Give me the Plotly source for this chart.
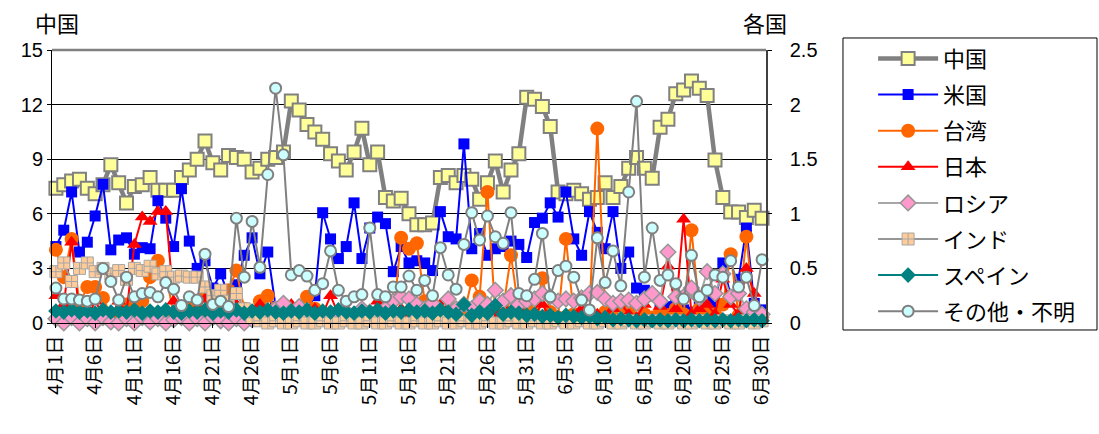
import pandas as pd
import plotly.graph_objects as go

# Daily categories, April 1 – June 30
dates = pd.date_range("2020-04-01", "2020-06-30", freq="D")
categories = [f"{d.month}月{d.day}日" for d in dates]
tick_labels = categories[::5]

# 中国 (left axis)
china = [7.4, 7.6, 7.8, 7.9, 7.4, 7.1, 7.6, 8.7, 7.7, 6.6,
         7.5, 7.6, 8.0, 7.3, 7.3, 7.3, 8.0, 8.4, 9.0, 10.0,
         8.8, 8.4, 9.2, 9.1, 9.0, 8.3, 8.5, 9.0, 9.1, 9.4,
         12.2, 11.7, 10.9, 10.5, 10.1, 9.3, 8.9, 8.4, 9.4, 10.7,
         8.7, 9.4, 6.9, 6.7, 6.85, 6.0, 5.4, 5.4, 5.5, 8.0,
         8.1, 7.7, 8.1, 7.9, 6.8, 7.7, 8.9, 7.2, 8.4, 9.3,
         12.4, 12.3, 11.9, 10.8, 7.2, 7.1, 7.3, 7.1, 6.8, 6.9,
         7.7, 6.9, 7.5, 8.5, 9.1, 8.5, 7.95, 10.75, 11.2, 12.6,
         12.8, 13.3, 12.9, 12.5, 8.95, 6.9, 6.1, 6.1, 5.8, 6.2,
         5.75]

# Other countries (right axis)
usa = [0.70, 0.85, 1.20, 0.65, 0.74, 0.98, 1.27, 0.67, 0.76, 0.78,
       0.63, 0.69, 0.68, 1.12, 0.96, 0.70, 1.23, 0.75, 0.50, 0.57,
       0.32, 0.45, 0.25, 0.35, 0.62, 0.78, 0.45, 0.65, 0.15, 0.12,
       0.10, 0.13, 0.12, 0.25, 1.01, 0.77, 0.59, 0.70, 1.10, 0.59,
       0.87, 0.97, 0.91, 0.47, 0.70, 0.55, 0.57, 0.55, 0.48, 1.02,
       0.79, 0.77, 1.64, 0.68, 0.82, 0.62, 0.68, 0.70, 0.75, 0.72,
       0.60, 0.92, 0.96, 1.10, 0.97, 1.20, 0.77, 0.62, 1.02, 0.83,
       0.68, 1.02, 0.50, 0.65, 0.32, 0.30, 0.25, 0.18, 0.15, 0.20,
       0.12, 0.10, 0.15, 0.20, 0.18, 0.55, 0.25, 0.40, 0.87, 0.18,
       0.12]

taiwan = [0.67, 0.42, 0.77, 0.17, 0.33, 0.33, 0.23, 0.07, 0.05, 0.17,
          0.13, 0.20, 0.42, 0.57, 0.45, 0.08, 0.05, 0.17, 0.08, 0.25,
          0.13, 0.17, 0.30, 0.48, 0.13, 0.08, 0.20, 0.25, 0.13, 0.08,
          0.05, 0.08, 0.24, 0.13, 0.05, 0.08, 0.07, 0.05, 0.03, 0.08,
          0.05, 0.08, 0.03, 0.05, 0.78, 0.68, 0.73, 0.20, 0.08, 0.05,
          0.05, 0.13, 0.08, 0.39, 0.24, 1.20, 0.08, 0.13, 0.62, 0.10,
          0.13, 0.08, 0.41, 0.10, 0.05, 0.77, 0.08, 0.05, 0.08, 1.78,
          0.10, 0.13, 0.17, 0.10, 0.17, 0.08, 0.05, 0.10, 0.07, 0.13,
          0.08, 0.85, 0.13, 0.10, 0.08, 0.17, 0.63, 0.07, 0.79, 0.08,
          0.05]

japan = [0.25, 0.17, 0.74, 0.08, 0.05, 0.20, 0.08, 0.05, 0.20, 0.10,
         0.72, 0.97, 0.93, 1.02, 1.02, 0.20, 0.08, 0.05, 0.13, 0.22,
         0.08, 0.05, 0.13, 0.17, 0.08, 0.05, 0.17, 0.08, 0.05, 0.13,
         0.17, 0.08, 0.05, 0.13, 0.08, 0.25, 0.08, 0.13, 0.08, 0.13,
         0.05, 0.20, 0.08, 0.05, 0.13, 0.08, 0.05, 0.05, 0.13, 0.17,
         0.08, 0.05, 0.17, 0.08, 0.17, 0.13, 0.08, 0.20, 0.08, 0.13,
         0.05, 0.08, 0.17, 0.05, 0.05, 0.08, 0.05, 0.13, 0.05, 0.08,
         0.05, 0.13, 0.18, 0.08, 0.05, 0.17, 0.23, 0.15, 0.52, 0.13,
         0.95, 0.08, 0.13, 0.17, 0.08, 0.40, 0.17, 0.08, 0.50, 0.27,
         0.08]

russia = [0.04, 0.00, 0.05, 0.00, 0.04, 0.00, 0.05, 0.01, 0.00, 0.04,
          0.00, 0.05, 0.01, 0.04, 0.00, 0.03, 0.05, 0.00, 0.04, 0.00,
          0.05, 0.02, 0.00, 0.04, 0.00, 0.03, 0.05, 0.08, 0.13, 0.18,
          0.08, 0.15, 0.10, 0.07, 0.05, 0.08, 0.05, 0.10, 0.07, 0.13,
          0.10, 0.08, 0.13, 0.20, 0.24, 0.22, 0.17, 0.13, 0.18, 0.10,
          0.22, 0.13, 0.17, 0.13, 0.20, 0.17, 0.30, 0.20, 0.25, 0.17,
          0.20, 0.22, 0.27, 0.24, 0.20, 0.22, 0.20, 0.23, 0.27, 0.28,
          0.22, 0.18, 0.20, 0.21, 0.18, 0.22, 0.27, 0.20, 0.65, 0.24,
          0.24, 0.32, 0.23, 0.47, 0.27, 0.45, 0.24, 0.27, 0.13, 0.10,
          0.08]

india = [0.47, 0.55, 0.38, 0.50, 0.55, 0.47, 0.50, 0.45, 0.48, 0.40,
         0.50, 0.48, 0.52, 0.45, 0.47, 0.42, 0.43, 0.42, 0.42, 0.33,
         0.25, 0.30, 0.20, 0.27, 0.13, 0.05, 0.02, 0.00, 0.02, 0.00,
         0.00, 0.02, 0.00, 0.00, 0.02, 0.00, 0.00, 0.02, 0.00, 0.00,
         0.02, 0.00, 0.00, 0.02, 0.00, 0.00, 0.02, 0.00, 0.00, 0.02,
         0.00, 0.00, 0.02, 0.00, 0.00, 0.02, 0.00, 0.00, 0.02, 0.00,
         0.00, 0.02, 0.00, 0.00, 0.02, 0.00, 0.00, 0.02, 0.00, 0.00,
         0.02, 0.00, 0.00, 0.02, 0.00, 0.00, 0.02, 0.00, 0.00, 0.02,
         0.00, 0.00, 0.02, 0.00, 0.00, 0.02, 0.00, 0.00, 0.02, 0.00,
         0.02]

spain = [0.11, 0.10, 0.12, 0.10, 0.11, 0.09, 0.12, 0.10, 0.11, 0.10,
         0.12, 0.09, 0.11, 0.10, 0.12, 0.10, 0.09, 0.11, 0.10, 0.12,
         0.09, 0.11, 0.10, 0.12, 0.09, 0.11, 0.10, 0.12, 0.10, 0.09,
         0.11, 0.10, 0.12, 0.09, 0.11, 0.10, 0.12, 0.10, 0.09, 0.11,
         0.10, 0.12, 0.09, 0.11, 0.10, 0.12, 0.10, 0.11, 0.09, 0.12,
         0.10, 0.08, 0.17, 0.07, 0.10, 0.09, 0.16, 0.08, 0.10, 0.09,
         0.07, 0.08, 0.06, 0.07, 0.05, 0.07, 0.06, 0.05, 0.06, 0.04,
         0.05, 0.03, 0.04, 0.03, 0.02, 0.03, 0.02, 0.03, 0.02, 0.03,
         0.02, 0.03, 0.02, 0.03, 0.02, 0.03, 0.02, 0.03, 0.02, 0.03,
         0.02]

other = [0.32, 0.22, 0.22, 0.21, 0.20, 0.22, 0.50, 0.38, 0.21, 0.42,
         0.24, 0.27, 0.28, 0.24, 0.37, 0.31, 0.16, 0.24, 0.21, 0.63,
         0.17, 0.20, 0.15, 0.96, 0.42, 0.93, 0.51, 1.36, 2.15, 1.54,
         0.44, 0.48, 0.43, 0.30, 0.36, 0.66, 0.30, 0.20, 0.24, 0.26,
         0.87, 0.26, 0.24, 0.33, 0.33, 0.43, 0.30, 0.39, 0.25, 0.69,
         0.44, 0.31, 0.72, 1.01, 0.76, 0.98, 0.79, 0.73, 1.01, 0.27,
         0.25, 0.40, 0.82, 0.24, 0.48, 0.52, 0.42, 0.21, 0.12, 0.78,
         0.37, 0.66, 0.34, 1.20, 2.03, 0.42, 0.87, 0.39, 0.44, 0.36,
         0.22, 0.62, 0.24, 0.30, 0.44, 0.42, 0.57, 0.33, 0.42, 0.16,
         0.58]

FONT = "Liberation Sans, Arial, Noto Sans CJK JP"
JP = "Noto Sans CJK JP"

series = [
    # name, values, axis, line colour, line width, symbol, size, fill, edge colour, edge width
    ("中国", china, "y", "#808080", 4.5, "square", 13, "#FFFF99", "#808080", 2),
    ("米国", usa, "y2", "#0000FF", 2, "square", 11, "#0000FF", "#0000FF", 0),
    ("台湾", taiwan, "y2", "#FF6600", 2, "circle", 14, "#FF6600", "#FF6600", 0),
    ("日本", japan, "y2", "#FF0000", 2, "triangle-up", 13, "#FF0000", "#FF0000", 0),
    ("ロシア", russia, "y2", "#A6A6A6", 2, "diamond", 12, "#FF99CC", "#969696", 1.5),
    ("インド", india, "y2", "#969696", 2, "square-cross", 12, "#FFCC99", "#A6A6A6", 1),
    ("スペイン", spain, "y2", "#008080", 2, "diamond", 12, "#008080", "#008080", 0),
    ("その他・不明", other, "y2", "#808080", 2, "circle", 11, "#CCFFFF", "#808080", 2),
]

fig = go.Figure()
for i, (name, vals, ax, lc, lw, sym, sz, fill, ec, ew) in enumerate(series):
    fig.add_trace(go.Scatter(
        x=categories, y=vals, name=name, yaxis=ax,
        mode="lines+markers", cliponaxis=False,
        legendgroup=f"g{i}",
        line=dict(color=lc, width=lw),
        marker=dict(symbol=sym, size=sz, color=fill,
                    line=dict(color=ec, width=ew)),
    ))

fig.update_layout(
    width=1099, height=434,
    margin=dict(l=52, r=333, t=50, b=111),
    paper_bgcolor="white", plot_bgcolor="white",
    font=dict(family=FONT, color="black"),
    showlegend=True,
    legend=dict(
        x=1.15, y=1.045, xanchor="left", yanchor="top",
        font=dict(size=22, family=JP),
        itemwidth=60, tracegroupgap=4.5, maxheight=430,
        bgcolor="rgba(0,0,0,0)", borderwidth=0,
    ),
    xaxis=dict(
        type="category", range=[-0.5, 90.5],
        tickmode="array", tickvals=tick_labels, ticktext=tick_labels,
        tickangle=-90, tickfont=dict(size=19, family=JP),
        ticks="outside", ticklen=4, tickcolor="black",
        showgrid=False, showline=True, linecolor="black", linewidth=1,
        zeroline=False,
    ),
    yaxis=dict(
        range=[0, 15], tickmode="array", tickvals=[0, 3, 6, 9, 12, 15],
        tickfont=dict(size=20),
        showgrid=True, gridcolor="black", gridwidth=1,
        showline=True, linecolor="black", linewidth=1,
        ticks="outside", ticklen=4, tickcolor="black",
        zeroline=False,
    ),
    yaxis2=dict(
        range=[0, 2.5], overlaying="y", side="right",
        tickmode="array", tickvals=[0, 0.5, 1, 1.5, 2, 2.5],
        ticktext=["0", "0.5", "1", "1.5", "2", "2.5"],
        tickfont=dict(size=20),
        showgrid=False, showline=True, linecolor="#404040", linewidth=1.5,
        ticks="outside", ticklen=4, tickcolor="black",
        ticklabelstandoff=14, zeroline=False,
    ),
    shapes=[
        # top border of the plot area
        dict(type="line", xref="paper", yref="paper", x0=0, x1=1, y0=1, y1=1,
             line=dict(color="#808080", width=2.5)),
        # legend frame
        dict(type="rect", xref="paper", yref="paper",
             x0=1.1078, x1=1.4636, y0=-0.0256, y1=1.044,
             line=dict(color="black", width=1), fillcolor="rgba(0,0,0,0)"),
    ],
    annotations=[
        dict(text="中国", xref="paper", yref="paper", x=0.007, y=1.103,
             xanchor="center", yanchor="middle",
             showarrow=False, font=dict(size=22, family=JP)),
        dict(text="各国", xref="paper", yref="paper", x=0.999, y=1.103,
             xanchor="center", yanchor="middle",
             showarrow=False, font=dict(size=22, family=JP)),
    ],
)

fig.write_html("out.html")
